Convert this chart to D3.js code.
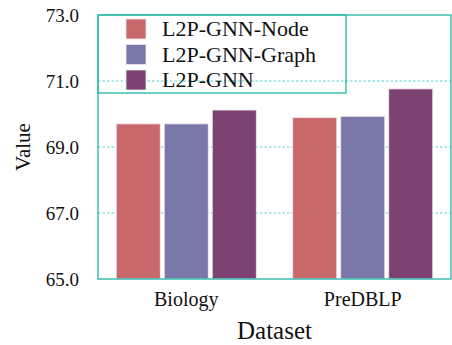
<!DOCTYPE html>
<html>
<head>
<meta charset="utf-8">
<script src="https://cdn.jsdelivr.net/npm/d3@7"></script>
<style>
  body { margin: 0; background: #fff; }
</style>
</head>
<body>
<svg id="chart"></svg>
<script>
const width = 452;
const height = 345;
const margin = {top: 15, right: 1, bottom: 66, left: 98};
const serif = "'Liberation Serif'";

const datasets = ['Biology', 'PreDBLP'];
const methods = ['L2P-GNN-Node', 'L2P-GNN-Graph', 'L2P-GNN'];
const nodeValues = [69.70, 69.89];
const graphValues = [69.70, 69.93];
const fullValues = [70.12, 70.76];
const yTicks = [65, 67, 69, 71, 73];
const colors = ['#c9686a', '#7a78a8', '#7b4272'];

const series = [nodeValues, graphValues, fullValues];
const rows = [];
datasets.forEach((ds, i) => {
    methods.forEach((m, j) => rows.push({dataset: ds, method: m, value: series[j][i]}));
});

const svg = d3.select('#chart')
    .attr('width', width)
    .attr('height', height);

const x0 = d3.scaleBand()
    .domain(datasets)
    .range([margin.left, width - margin.right])
    .paddingInner(0)
    .paddingOuter(0);

const x1 = d3.scaleBand()
    .domain(methods)
    .range([0, x0.bandwidth()])
    .paddingInner(0.083)
    .paddingOuter(0.38);

const y = d3.scaleLinear()
    .domain([65, 73])
    .range([height - margin.bottom, margin.top]);

const color = d3.scaleOrdinal().domain(methods).range(colors);

// dotted grid
svg.append('g')
    .selectAll('line')
    .data(yTicks.slice(1, -1))
    .enter()
    .append('line')
    .attr('x1', margin.left)
    .attr('x2', width - margin.right)
    .attr('y1', d => y(d))
    .attr('y2', d => y(d))
    .attr('stroke', '#4fd8d0')
    .attr('stroke-width', 1.2)
    .attr('stroke-dasharray', '2.5,2');

// bars
svg.append('g')
    .selectAll('rect')
    .data(rows)
    .enter()
    .append('rect')
    .attr('x', d => x0(d.dataset) + x1(d.method))
    .attr('y', d => y(d.value))
    .attr('width', x1.bandwidth())
    .attr('height', d => y(65) - y(d.value))
    .attr('fill', d => color(d.method))
    .attr('stroke', '#f2e8ee')
    .attr('stroke-width', 0.8);

// frame
svg.append('rect')
    .attr('x', margin.left)
    .attr('y', margin.top)
    .attr('width', width - margin.left - margin.right)
    .attr('height', height - margin.top - margin.bottom)
    .attr('fill', 'none')
    .attr('stroke', '#3bbfae')
    .attr('stroke-width', 1.5);

// axes
const yAxis = d3.axisLeft(y)
    .tickValues(yTicks)
    .tickFormat(d3.format('.1f'))
    .tickSize(0)
    .tickPadding(19);
const gy = svg.append('g')
    .attr('transform', 'translate(' + margin.left + ',0)')
    .call(yAxis);
gy.select('.domain').remove();
gy.selectAll('text')
    .style('font-family', serif)
    .style('font-size', '19px')
    .attr('fill', '#111');

const xAxis = d3.axisBottom(x0).tickSize(0).tickPadding(13);
const gx = svg.append('g')
    .attr('transform', 'translate(0,' + (height - margin.bottom) + ')')
    .call(xAxis);
gx.select('.domain').remove();
gx.selectAll('text')
    .style('font-family', serif)
    .style('font-size', '20px')
    .attr('fill', '#111');

// axis titles
svg.append('text')
    .attr('x', (margin.left + width - margin.right) / 2)
    .attr('y', 339)
    .style('text-anchor', 'middle')
    .style('font-family', serif)
    .style('font-size', '25px')
    .attr('fill', '#111')
    .text('Dataset');

svg.append('text')
    .attr('transform', 'rotate(-90)')
    .attr('x', -147)
    .attr('y', 30)
    .style('text-anchor', 'middle')
    .style('font-family', serif)
    .style('font-size', '21px')
    .attr('fill', '#111')
    .text('Value');

// legend
const legend = svg.append('g');
legend.append('rect')
    .attr('x', margin.left)
    .attr('y', margin.top)
    .attr('width', 248)
    .attr('height', 78)
    .attr('fill', 'none')
    .attr('stroke', '#3bbfae')
    .attr('stroke-width', 1.5);

const item = legend.selectAll('g.item')
    .data(methods)
    .enter()
    .append('g')
    .attr('class', 'item')
    .attr('transform', (d, i) => 'translate(126,' + (19 + i * 25.5) + ')');

item.append('rect')
    .attr('width', 20)
    .attr('height', 20)
    .attr('fill', d => color(d))
    .attr('stroke', '#f2e8ee')
    .attr('stroke-width', 0.8);

item.append('text')
    .attr('x', 36)
    .attr('y', 17)
    .style('font-family', serif)
    .style('font-size', '22px')
    .attr('fill', '#111')
    .text(d => d);
</script>
</body>
</html>
